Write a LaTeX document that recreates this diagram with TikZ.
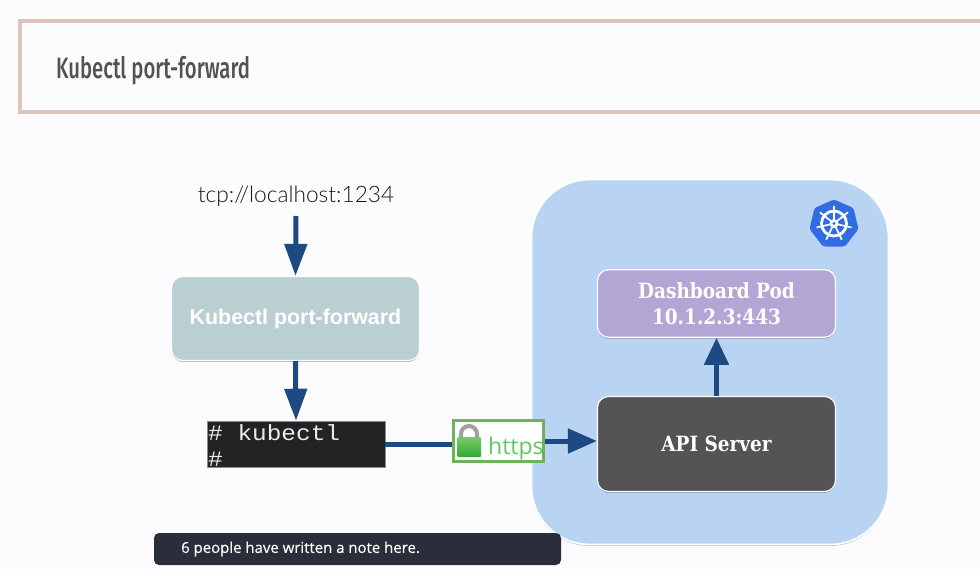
\documentclass[tikz,border=0pt]{standalone}
\usepackage{fontspec}
\setmainfont{Liberation Sans}
\newfontfamily\titlefont[FakeStretch=0.69]{Fira Sans Medium}
\newfontfamily\labelfont{Liberation Sans}
\newfontfamily\slabfont[FakeStretch=0.88]{DejaVu Serif}
\newfontfamily\lightfont{Lato Light}
\newfontfamily\monofont[FakeStretch=1.11]{Liberation Mono}
\newfontfamily\notefont{Open Sans}
\newfontfamily\notemedfont[FakeBold=0.25]{Open Sans}
\usetikzlibrary{arrows.meta,shadows,positioning}
\definecolor{pagebg}{HTML}{FCFBFE}
\definecolor{framec}{HTML}{DCC5BD}
\definecolor{arrowc}{HTML}{1D4A83}
\definecolor{clusterc}{HTML}{B9D3F3}
\definecolor{pfc}{HTML}{BACFD2}
\definecolor{podc}{HTML}{B2A6D5}
\definecolor{apic}{HTML}{545356}
\definecolor{termc}{HTML}{232225}
\definecolor{notec}{HTML}{2A2E3B}
\definecolor{greenc}{HTML}{6CB35B}
\definecolor{httpsc}{HTML}{62C762}
\definecolor{helmc}{HTML}{326CE5}
\definecolor{locktop}{HTML}{74CC66}
\definecolor{lockbot}{HTML}{35A637}
\tikzset{
  x=1pt,y=-1pt,
  box/.style={draw=white,line width=1.2pt,rounded corners=11pt,minimum width=#1,text=white,align=center,inner sep=0pt,
    drop shadow={shadow xshift=0pt,shadow yshift=-1.4pt,opacity=0.4,fill=black!70}},
  flow/.style={draw=arrowc,line width=5pt},
  termtext/.style={anchor=base west,inner sep=0pt,text=white!92!black,font=\monofont\fontsize{22}{24}\selectfont},
}
\begin{document}
\begin{tikzpicture}
\useasboundingbox (0,0) rectangle (980,574);
\fill[pagebg] (0,0) rectangle (980,574);
% title frame
\draw[framec,line width=4pt] (990,21) -- (20,21) -- (20,112) -- (990,112);
\node[anchor=west,inner sep=0pt,text=black!68,font=\titlefont\fontsize{29.4}{32}\selectfont] (title) at (56,71) {Kubectl port-forward};
% cluster
\node[box=357pt,minimum height=365pt,rounded corners=58pt,fill=clusterc,line width=1.8pt] (cluster) at (710,362) {};
% helm badge
\fill[helmc,rounded corners=2.5pt] (834,199.5) -- (853.5,208) -- (858.5,229) -- (845,246.5) -- (823,246.5) -- (809.5,229) -- (814.5,208) -- cycle;
\begin{scope}[shift={(834,223.5)}]
  \draw[white,line width=2.8pt] (0,0) circle (12.5pt);
  \foreach \a in {90,141.4,192.8,244.2,295.6,347,38.6}{
    \draw[white,line width=1.7pt] (0,0) -- ({18*cos(\a)},{-18*sin(\a)});
  }
  \fill[white] (0,0) circle (4.5pt);
  \fill[helmc] (0,0) circle (1.6pt);
\end{scope}
% nodes
\node[box=248pt,minimum height=84pt,fill=pfc,font=\labelfont\bfseries\fontsize{21.4}{25}\selectfont] (pf) at (295.5,318.5) {\raisebox{-5pt}{Kubectl port-forward}};
\node[box=238pt,minimum height=67.5pt,fill=podc,font=\slabfont\bfseries\fontsize{21}{26}\selectfont] (pod) at (716.5,303.5) {Dashboard Pod\\10.1.2.3:443};
\node[box=238pt,minimum height=95pt,fill=apic,font=\slabfont\bfseries\fontsize{21}{26}\selectfont] (api) at (716.5,444) {API Server};
\node[anchor=base,inner sep=0pt,text=black!90,font=\lightfont\fontsize{22.7}{26}\selectfont] (tcp) at (296,202) {tcp://localhost:1234};
\node[draw=black!45,line width=0.6pt,fill=termc,minimum width=178pt,minimum height=46pt,inner sep=0pt] (term) at (296,444) {};
\node[termtext] (termline) at (208,440) {\# kubectl};
\begin{scope}
  \clip (207,421) rectangle (385,467);
  \node[termtext] (termprompt) at (208,466) {\#};
\end{scope}
\node[draw=greenc,line width=3pt,fill=white,minimum width=90pt,minimum height=41pt,inner sep=0pt] (https) at (498,441) {};
\node[anchor=base west,inner sep=0pt,text=httpsc,font=\notefont\fontsize{23}{26}\selectfont] (httpstext) at (488,454) {https};
% padlock
\draw[black!38,line width=4pt] (461,439) -- (461,434) arc[start angle=180,end angle=0,radius=8pt] -- (477,439);
\shade[top color=locktop,bottom color=lockbot,rounded corners=1pt] (457.5,437) rectangle (481,457);
% note bar
\node[fill=notec,rounded corners=5pt,minimum width=407pt,minimum height=32pt,inner sep=0pt] (note) at (357.5,549) {};
\node[anchor=west,inner sep=0pt,text=white,font=\notemedfont\fontsize{14.95}{17}\selectfont] (notetext) at (181,549) {6 people have written a note here.};
% connectors
\coordinate (a0) at (296,216);
\draw[flow,-{Triangle[width=22pt,length=32pt]}] (a0) -- (pf.north);
\draw[flow,-{Triangle[width=22pt,length=32pt]}] (pf.south) -- (term.north);
\draw[flow,-{Triangle[width=24pt,length=27pt]}] (api.north) -- (pod.south);
\draw[flow] (term.east) -- (https.west |- term.east);
\draw[flow,-{Triangle[width=24pt,length=29pt]}] (https.east) -- (https.east -| api.west);
\end{tikzpicture}
\end{document}
